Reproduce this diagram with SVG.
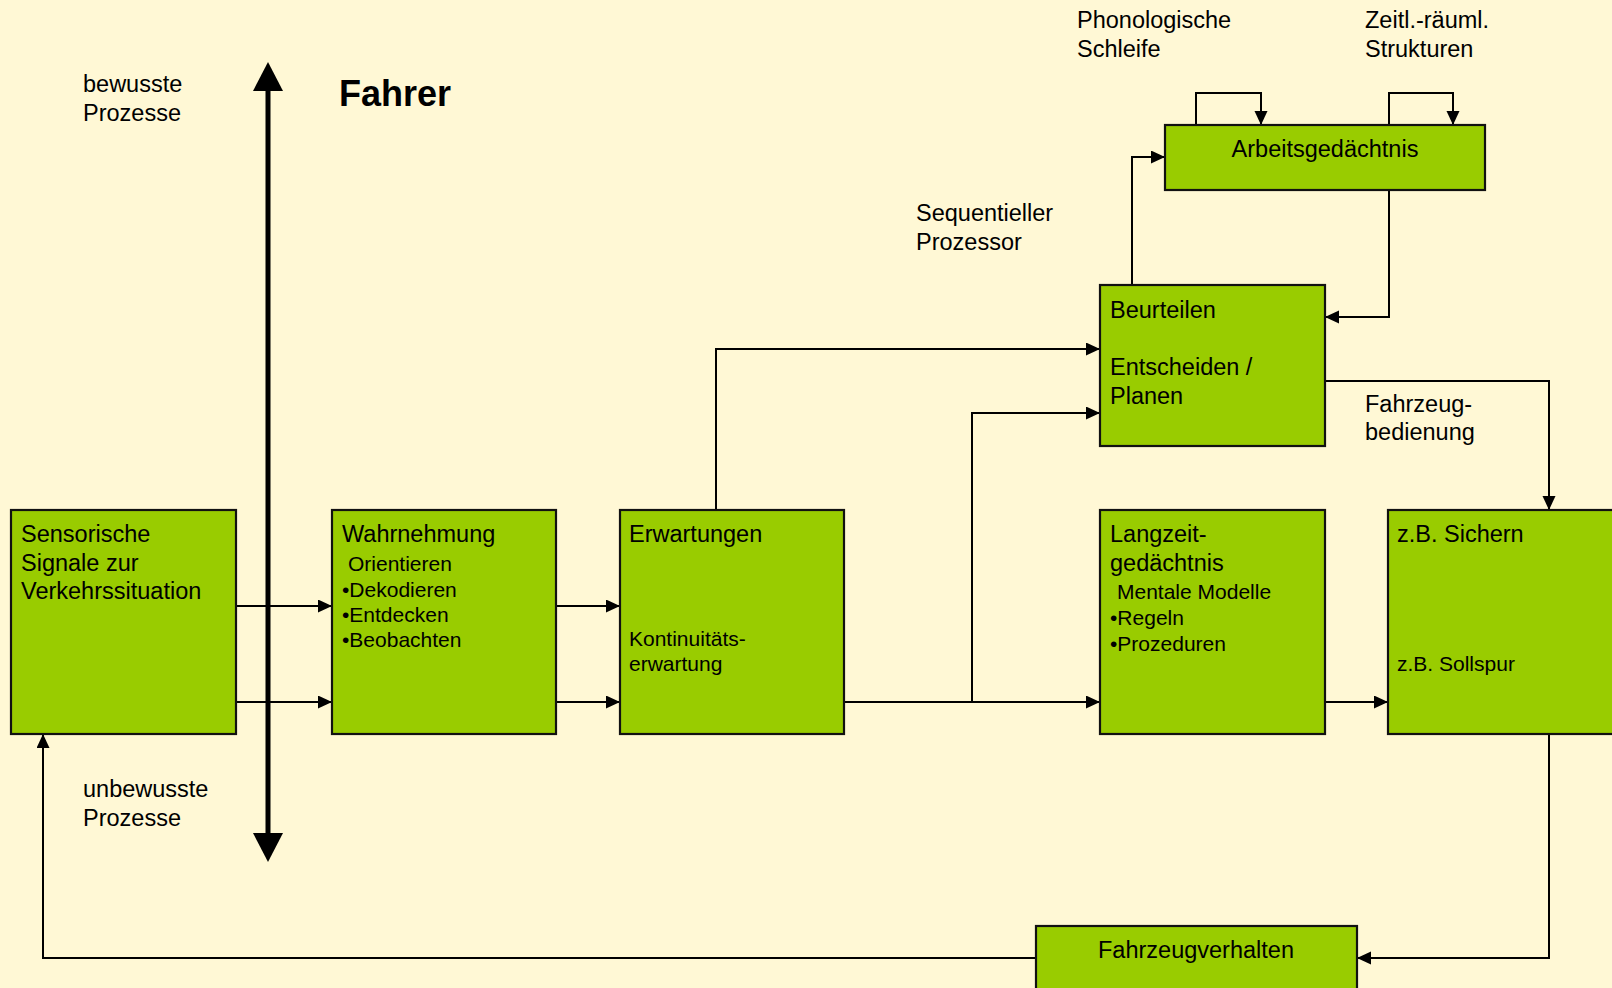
<svg xmlns="http://www.w3.org/2000/svg" width="1612" height="988" viewBox="0 0 1612 988">
<style>
.bg{fill:#FFF8D5}
.box{fill:#99CC00;stroke:#111;stroke-width:2.2}
.t{font-family:"Liberation Sans",Arial,sans-serif;font-size:23.5px;fill:#000}
.s{font-family:"Liberation Sans",Arial,sans-serif;font-size:21px;fill:#000}
.c{fill:none;stroke:#000;stroke-width:2}
</style>
<defs>
<marker id="ah" markerUnits="userSpaceOnUse" markerWidth="15" markerHeight="14" refX="14" refY="6.5" orient="auto">
<path d="M0,0 L14,6.5 L0,13 z" fill="#000"/>
</marker>
</defs>
<rect class="bg" x="0" y="0" width="1612" height="988"/>

<g id="axis">
<line x1="268" y1="88" x2="268" y2="836" stroke="#000" stroke-width="5"/>
<polygon points="253,91 268,62 283,91" fill="#000"/>
<polygon points="253,833 268,862 283,833" fill="#000"/>
<text class="t" x="83" y="92">bewusste</text>
<text class="t" x="83" y="121">Prozesse</text>
<text class="t" x="83" y="797">unbewusste</text>
<text class="t" x="83" y="826">Prozesse</text>
<text x="339" y="106" font-family="'Liberation Sans',Arial,sans-serif" font-size="36" font-weight="bold">Fahrer</text>
</g>

<g id="labels">
<text class="t" x="1077" y="28">Phonologische</text>
<text class="t" x="1077" y="57">Schleife</text>
<text class="t" x="1365" y="28">Zeitl.-räuml.</text>
<text class="t" x="1365" y="57">Strukturen</text>
<text class="t" x="916" y="221">Sequentieller</text>
<text class="t" x="916" y="250">Prozessor</text>
<text class="t" x="1365" y="412">Fahrzeug-</text>
<text class="t" x="1365" y="440">bedienung</text>
</g>

<g id="connectors">
<path class="c" d="M236,606 H332" marker-end="url(#ah)"/>
<path class="c" d="M236,702 H332" marker-end="url(#ah)"/>
<path class="c" d="M556,606 H620" marker-end="url(#ah)"/>
<path class="c" d="M556,702 H620" marker-end="url(#ah)"/>
<path class="c" d="M844,702 H1100" marker-end="url(#ah)"/>
<path class="c" d="M972,702 V413 H1100" marker-end="url(#ah)"/>
<path class="c" d="M716,510 V349 H1100" marker-end="url(#ah)"/>
<path class="c" d="M1132,285 V157 H1165" marker-end="url(#ah)"/>
<path class="c" d="M1389,190 V317 H1325" marker-end="url(#ah)"/>
<path class="c" d="M1196,125 V93 H1261 V125" marker-end="url(#ah)"/>
<path class="c" d="M1389,125 V93 H1453 V125" marker-end="url(#ah)"/>
<path class="c" d="M1325,381 H1549 V510" marker-end="url(#ah)"/>
<path class="c" d="M1325,702 H1388" marker-end="url(#ah)"/>
<path class="c" d="M1549,734 V958 H1357" marker-end="url(#ah)"/>
<path class="c" d="M1036,958 H43 V734" marker-end="url(#ah)"/>
</g>

<g id="sensorische">
<rect class="box" x="11" y="510" width="225" height="224"/>
<text class="t" x="21" y="542">Sensorische</text>
<text class="t" x="21" y="571">Signale zur</text>
<text class="t" x="21" y="599">Verkehrssituation</text>
</g>

<g id="wahrnehmung">
<rect class="box" x="332" y="510" width="224" height="224"/>
<text class="t" x="342" y="542">Wahrnehmung</text>
<text class="s" x="348" y="571">Orientieren</text>
<text class="s" x="342" y="597">•Dekodieren</text>
<text class="s" x="342" y="622">•Entdecken</text>
<text class="s" x="342" y="647">•Beobachten</text>
</g>

<g id="erwartungen">
<rect class="box" x="620" y="510" width="224" height="224"/>
<text class="t" x="629" y="542">Erwartungen</text>
<text class="s" x="629" y="646">Kontinuitäts-</text>
<text class="s" x="629" y="671">erwartung</text>
</g>

<g id="langzeit">
<rect class="box" x="1100" y="510" width="225" height="224"/>
<text class="t" x="1110" y="542">Langzeit-</text>
<text class="t" x="1110" y="571">gedächtnis</text>
<text class="s" x="1117" y="599">Mentale Modelle</text>
<text class="s" x="1110" y="625">•Regeln</text>
<text class="s" x="1110" y="651">•Prozeduren</text>
</g>

<g id="sichern">
<rect class="box" x="1388" y="510" width="240" height="224"/>
<text class="t" x="1397" y="542">z.B. Sichern</text>
<text class="s" x="1397" y="671">z.B. Sollspur</text>
</g>

<g id="beurteilen">
<rect class="box" x="1100" y="285" width="225" height="161"/>
<text class="t" x="1110" y="318">Beurteilen</text>
<text class="t" x="1110" y="375">Entscheiden /</text>
<text class="t" x="1110" y="404">Planen</text>
</g>

<g id="arbeitsgedaechtnis">
<rect class="box" x="1165" y="125" width="320" height="65"/>
<text class="t" x="1325" y="157" text-anchor="middle">Arbeitsgedächtnis</text>
</g>

<g id="fahrzeugverhalten">
<rect class="box" x="1036" y="926" width="321" height="80"/>
<text class="t" x="1196" y="958" text-anchor="middle">Fahrzeugverhalten</text>
</g>
</svg>
